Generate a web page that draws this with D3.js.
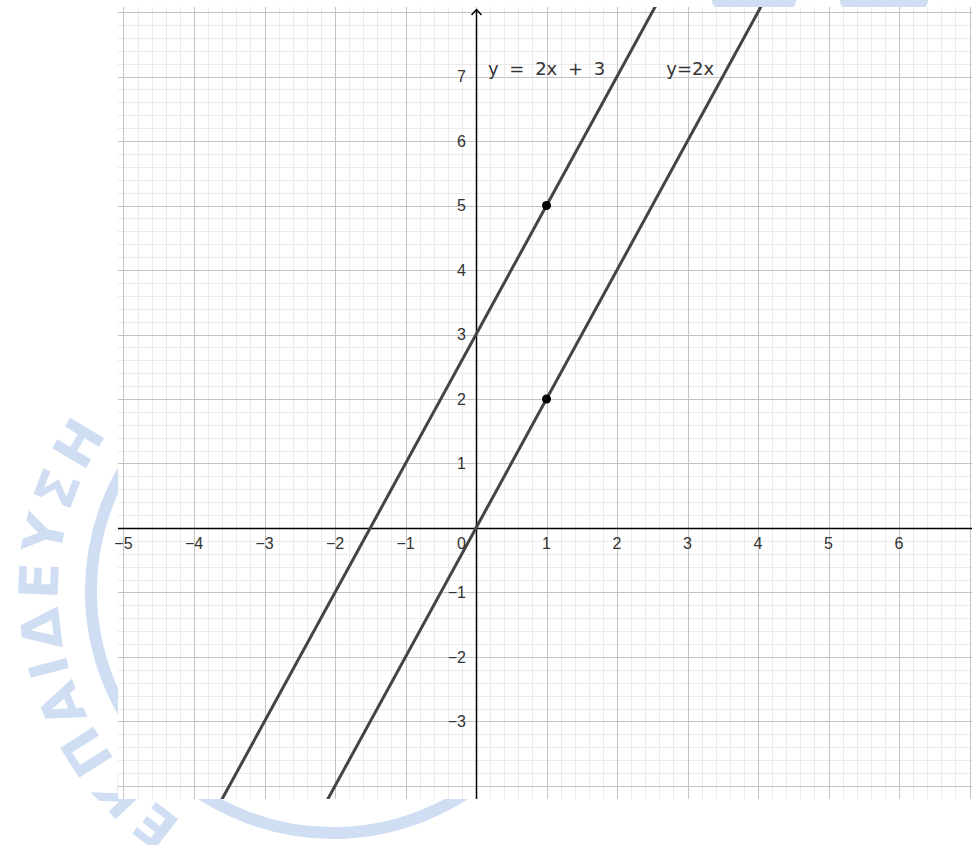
<!DOCTYPE html>
<html>
<head>
<meta charset="utf-8">
<script src="https://cdn.jsdelivr.net/npm/d3@7"></script>
<style>
  body { margin: 0; background: #fff; }
  svg { display: block; }
</style>
</head>
<body>
<div id="plot"></div>
<script>
var width = 972, height = 845;

// data
var xTickValues = [-5, -4, -3, -2, -1, 1, 2, 3, 4, 5, 6];
var yTickValues = [-3, -2, -1, 1, 2, 3, 4, 5, 6, 7];
var lineNames = ["y = 2x + 3", "y=2x"];
var slopes = [2, 2];
var intercepts = [3, 0];
var pointX = [1, 1];
var pointY = [5, 2];
var watermarkText = "ΕΚΠΑΙΔΕΥΣΗ";

var viewLeft = 118, viewRight = 972, viewTop = 7, viewBottom = 799;
var xmin = -5.078, xmax = 7.035, ymin = -4.202, ymax = 8.078;

var svg = d3.select("#plot")
  .append("svg")
    .attr("width", width)
    .attr("height", height);

// watermark behind the graphics view
var wmColor = "#cfdef3";
var cx = 333, cy = 591;
svg.append("circle")
  .attr("cx", cx).attr("cy", cy).attr("r", 242)
  .attr("fill", "none")
  .attr("stroke", wmColor)
  .attr("stroke-width", 12);

var rText = 275;
svg.append("defs").append("path")
  .attr("id", "wmArc")
  .attr("d", "M" + cx + "," + (cy + rText) + " A" + rText + "," + rText + " 0 1,1 " + cx + "," + (cy - rText));
svg.append("text")
  .attr("font-family", "DejaVu Sans, sans-serif")
  .attr("font-weight", "bold")
  .attr("font-size", 54)
  .attr("letter-spacing", 6)
  .attr("fill", wmColor)
  .append("textPath")
    .attr("href", "#wmArc")
    .attr("startOffset", 382)
    .attr("text-anchor", "middle")
    .text(watermarkText);

var wm = svg.append("g").attr("fill", wmColor);
wm.append("rect").attr("x", 712).attr("y", -12).attr("width", 84).attr("height", 22).attr("rx", 9);
wm.append("rect").attr("x", 840).attr("y", -12).attr("width", 88).attr("height", 22).attr("rx", 9);

// graphics view
svg.append("rect")
  .attr("x", viewLeft).attr("y", viewTop)
  .attr("width", viewRight - viewLeft).attr("height", viewBottom - viewTop)
  .attr("fill", "#fff");

svg.append("clipPath").attr("id", "view")
  .append("rect")
  .attr("x", viewLeft).attr("y", viewTop)
  .attr("width", viewRight - viewLeft).attr("height", viewBottom - viewTop);

var x = d3.scaleLinear().domain([xmin, xmax]).range([viewLeft, viewRight]);
var y = d3.scaleLinear().domain([ymin, ymax]).range([viewBottom, viewTop]);

var g = svg.append("g").attr("clip-path", "url(#view)");

// grid, minor every 0.2, major every 1
var xs = d3.range(Math.ceil(xmin * 5), Math.floor(xmax * 5) + 1);
var ys = d3.range(Math.ceil(ymin * 5), Math.floor(ymax * 5) + 1);

function vLines(data, color) {
  g.append("g").selectAll("line")
    .data(data)
    .enter().append("line")
      .attr("x1", function(i) { return Math.round(x(i / 5)) + 0.5; })
      .attr("x2", function(i) { return Math.round(x(i / 5)) + 0.5; })
      .attr("y1", viewTop).attr("y2", viewBottom)
      .attr("stroke", color);
}
function hLines(data, color) {
  g.append("g").selectAll("line")
    .data(data)
    .enter().append("line")
      .attr("y1", function(i) { return Math.round(y(i / 5)) + 0.5; })
      .attr("y2", function(i) { return Math.round(y(i / 5)) + 0.5; })
      .attr("x1", viewLeft).attr("x2", viewRight)
      .attr("stroke", color);
}
vLines(xs.filter(function(i) { return i % 5 != 0; }), "#ebebeb");
hLines(ys.filter(function(i) { return i % 5 != 0; }), "#ebebeb");
vLines(xs.filter(function(i) { return i % 5 == 0; }), "#c4c4c4");
hLines(ys.filter(function(i) { return i % 5 == 0; }), "#c4c4c4");

// axes
var x0 = Math.round(x(0)) + 0.5, y0 = Math.round(y(0)) + 0.5;
g.append("line")
  .attr("x1", viewLeft).attr("x2", viewRight)
  .attr("y1", y0).attr("y2", y0)
  .attr("stroke", "#000").attr("stroke-width", 1.5);
g.append("line")
  .attr("x1", x0).attr("x2", x0)
  .attr("y1", viewBottom).attr("y2", viewTop + 2)
  .attr("stroke", "#000").attr("stroke-width", 1.5);
g.append("path")
  .attr("d", "M" + (x0 - 5) + "," + (viewTop + 8) + " L" + x0 + "," + (viewTop + 2.5) + " L" + (x0 + 5) + "," + (viewTop + 8))
  .attr("fill", "none")
  .attr("stroke", "#000").attr("stroke-width", 1.5);

// tick labels
var labels = svg.append("g")
  .attr("font-family", "Liberation Sans, Arial, sans-serif")
  .attr("font-size", 16)
  .attr("fill", "#333");
function fmt(v) { return v < 0 ? "\u2212" + Math.abs(v) : String(v); }

labels.selectAll(".xl")
  .data(xTickValues)
  .enter().append("text")
    .attr("x", function(d) { return x(d); })
    .attr("y", y(0) + 21)
    .attr("text-anchor", "middle")
    .text(fmt);
labels.selectAll(".yl")
  .data(yTickValues)
  .enter().append("text")
    .attr("x", x(0) - 10)
    .attr("y", function(d) { return y(d); })
    .attr("dy", "0.35em")
    .attr("text-anchor", "end")
    .text(fmt);
labels.append("text")
  .attr("x", x(0) - 10)
  .attr("y", y(0) + 21)
  .attr("text-anchor", "end")
  .text("0");

// the two lines
var line = d3.line()
  .x(function(d) { return x(d[0]); })
  .y(function(d) { return y(d[1]); });

g.selectAll(".fn")
  .data(slopes)
  .enter().append("path")
    .attr("d", function(m, i) {
      return line([[xmin, m * xmin + intercepts[i]], [xmax, m * xmax + intercepts[i]]]);
    })
    .attr("fill", "none")
    .attr("stroke", "#444")
    .attr("stroke-width", 3);

// points
g.selectAll(".pt")
  .data(pointX)
  .enter().append("circle")
    .attr("cx", function(d) { return x(d); })
    .attr("cy", function(d, i) { return y(pointY[i]); })
    .attr("r", 4.5)
    .attr("fill", "#000");

// line captions
var capX = [0.17, 2.7];
svg.selectAll(".cap")
  .data(lineNames)
  .enter().append("text")
    .attr("x", function(d, i) { return x(capX[i]); })
    .attr("y", y(7.02))
    .attr("font-family", "DejaVu Sans, sans-serif")
    .attr("font-size", 18)
    .attr("word-spacing", function(d, i) { return i == 0 ? 5 : 0; })
    .attr("fill", "#333")
    .text(function(d) { return d; });
</script>
</body>
</html>
